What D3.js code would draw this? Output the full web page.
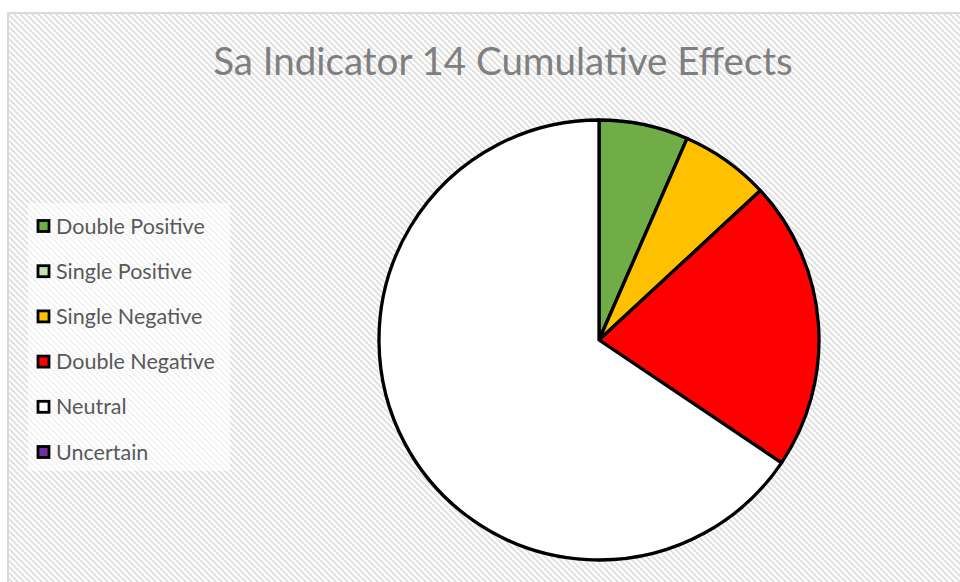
<!DOCTYPE html>
<html>
<head>
<meta charset="utf-8">
<script src="https://cdn.jsdelivr.net/npm/d3@7"></script>
<style>
  html, body { margin: 0; padding: 0; background: #fff; }
  svg { display: block; }
</style>
</head>
<body>
<svg id="chart" width="960" height="582"></svg>
<script>
const title = "Sa Indicator 14 Cumulative Effects";
const categories = ["Double Positive", "Single Positive", "Single Negative", "Double Negative", "Neutral", "Uncertain"];
const values = [4, 0, 4, 13, 40, 0];
const colors = ["#70ad47", "#c5e0b4", "#ffc000", "#ff0000", "#ffffff", "#7030a0"];

const svg = d3.select("#chart");
const W = 960, H = 582;

// pattern background
const defs = svg.append("defs");
const pat = defs.append("pattern")
  .attr("id", "diag").attr("patternUnits", "userSpaceOnUse")
  .attr("width", 6).attr("height", 6);
pat.append("rect").attr("width", 6).attr("height", 6).attr("fill", "#ffffff");
pat.append("path").attr("d", "M-1,-1 L7,7 M-1,5 L1,7 M5,-1 L7,1")
  .attr("stroke", "#e2e2e2").attr("stroke-width", 2);

svg.append("rect").attr("x", 0).attr("y", 0).attr("width", W).attr("height", H).attr("fill", "#fff");
svg.append("rect").attr("x", 8).attr("y", 13).attr("width", W + 10).attr("height", H + 10)
  .attr("fill", "url(#diag)").attr("stroke", "#d9d9d9").attr("stroke-width", 2);

// title
svg.append("text")
  .attr("x", 503).attr("y", 75)
  .attr("text-anchor", "middle")
  .attr("font-family", "Lato, 'Open Sans', sans-serif")
  .attr("font-size", 38.5)
  .attr("fill", "#7f7f7f")
  .text(title);

// pie
const cx = 599, cy = 340, r = 220;
const data = categories.map((c, i) => ({ name: c, value: values[i], color: colors[i] }));
const pie = d3.pie().value(d => d.value).sort(null);
const arc = d3.arc().innerRadius(0).outerRadius(r);
const g = svg.append("g").attr("transform", `translate(${cx},${cy})`);
g.selectAll("path").data(pie(data).filter(d => d.data.value > 0)).join("path")
  .attr("d", arc)
  .attr("fill", d => d.data.color)
  .attr("stroke", "#000").attr("stroke-width", 3.3).attr("stroke-linejoin", "round");

// legend
const lg = svg.append("g");
lg.append("rect").attr("x", 28).attr("y", 203).attr("width", 202).attr("height", 268)
  .attr("fill", "#ffffff").attr("fill-opacity", 0.6);
const rowY = d3.scalePoint().domain(categories).range([226, 452]);
const items = lg.selectAll("g.item").data(data).join("g").attr("class", "item")
  .attr("transform", d => `translate(0,${rowY(d.name)})`);
items.append("rect").attr("x", 38).attr("y", -5.5).attr("width", 11).attr("height", 11)
  .attr("fill", d => d.color).attr("stroke", "#000").attr("stroke-width", 2.8);
items.append("text").attr("x", 56).attr("y", 0).attr("dy", "0.35em")
  .attr("font-family", "Lato, 'Open Sans', sans-serif")
  .attr("font-size", 21.5).attr("fill", "#595959")
  .text(d => d.name);
</script>
</body>
</html>
